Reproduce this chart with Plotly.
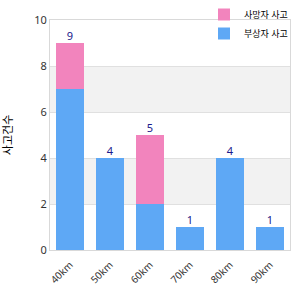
import plotly.graph_objects as go

categories = ["40km", "50km", "60km", "70km", "80km", "90km"]
blue_values = [7, 4, 2, 1, 4, 1]
pink_values = [2, 0, 3, 0, 0, 0]
totals = [b + p for b, p in zip(blue_values, pink_values)]
blue_name = "부상자 사고"
pink_name = "사망자 사고"
y_title = "사고건수"

font_family = "Noto Sans, Noto Sans CJK KR, sans-serif"

fig = go.Figure()
fig.add_trace(go.Bar(x=categories, y=blue_values, name=blue_name,
                     marker=dict(color="#5ea8f5", line=dict(width=0))))
fig.add_trace(go.Bar(x=categories, y=pink_values, name=pink_name,
                     marker=dict(color="#f284bd", line=dict(width=0))))
fig.add_trace(go.Scatter(x=categories, y=totals, mode="text", text=[str(t) for t in totals],
                         textposition="top center", showlegend=False, hoverinfo="skip",
                         textfont=dict(color="#1a1a8c", size=11, family=font_family)))

# alternating bands
for y0 in (2, 6):
    fig.add_shape(type="rect", xref="paper", yref="y", x0=0, x1=1, y0=y0, y1=y0 + 2,
                  fillcolor="#f2f2f2", line=dict(width=0), layer="below")

fig.update_layout(
    width=300, height=300,
    margin=dict(l=50, r=10, t=20, b=50, autoexpand=False),
    barmode="stack", bargap=0.3,
    plot_bgcolor="white", paper_bgcolor="white",
    font=dict(family=font_family, size=11, color="#333"),
    legend=dict(xref="container", yref="container", x=0.68, xanchor="left", y=1.0, yanchor="top",
                traceorder="reversed",
                font=dict(size=9, color="#000"), bgcolor="rgba(0,0,0,0)",
                itemwidth=30, tracegroupgap=0),
    showlegend=True,
)
fig.update_xaxes(showline=True, linecolor="#d9d9d9", linewidth=1, mirror=True,
                 tickangle=-45, ticks="", showgrid=False, automargin=False,
                 ticklabelstandoff=4,
                 tickfont=dict(size=10, color="#333"))
fig.update_yaxes(range=[0, 10], dtick=2, showline=True, linecolor="#d9d9d9", linewidth=1,
                 mirror=True, gridcolor="#e0e0e0", zeroline=False, ticks="", automargin=False,
                 tickfont=dict(size=11, color="#333"),
                 title=dict(text=y_title, font=dict(size=11, color="#000"), standoff=30))

fig.write_html("out.html")
